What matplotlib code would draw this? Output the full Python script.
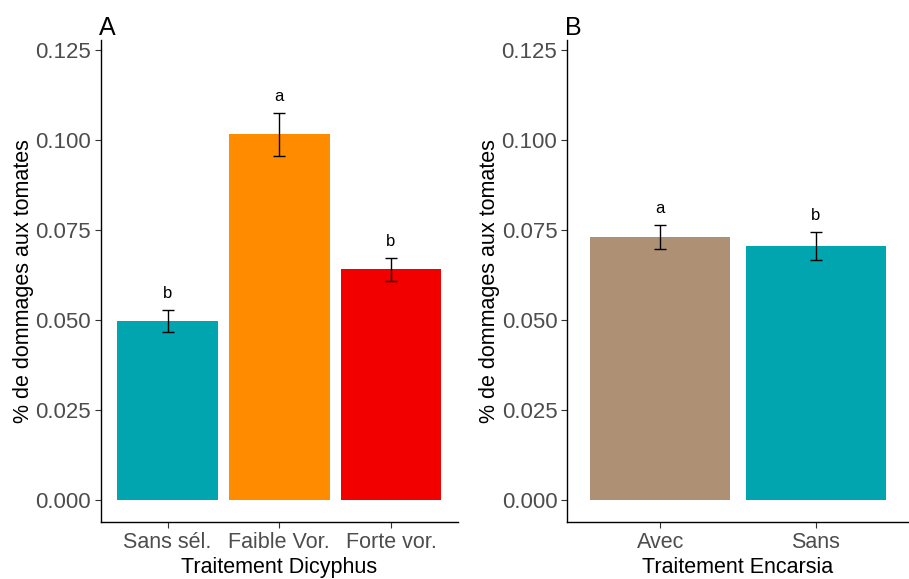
import matplotlib.pyplot as plt
import numpy as np

plt.rcParams.update({
    "font.family": ["Liberation Sans", "DejaVu Sans"],
    "axes.spines.top": False,
    "axes.spines.right": False,
})

# Panel A: Dicyphus treatments
dicy_labels = ["Sans sél.", "Faible Vor.", "Forte vor."]
dicy_mean = [0.0497, 0.1015, 0.0640]
dicy_se = [0.0030, 0.0059, 0.0031]
dicy_letters = ["b", "a", "b"]
dicy_colors = ["#00A5AF", "#FF8C00", "#F20000"]

# Panel B: Encarsia treatments
enc_labels = ["Avec", "Sans"]
enc_mean = [0.0730, 0.0705]
enc_se = [0.0033, 0.0039]
enc_letters = ["a", "b"]
enc_colors = ["#AE9174", "#00A5AF"]

yticks = [0.000, 0.025, 0.050, 0.075, 0.100, 0.125]

W, H = 909, 579
fig = plt.figure(figsize=(W / 100, H / 100), dpi=100)


def panel(rect, labels, means, ses, letters, colors, xlabel, tag):
    left, top, right, bottom = rect
    ax = fig.add_axes([left / W, 1 - bottom / H, (right - left) / W, (bottom - top) / H])
    x = np.arange(1, len(labels) + 1)
    ax.bar(x, means, width=0.9, color=colors)
    ax.errorbar(x, means, yerr=ses, fmt="none", ecolor="black", elinewidth=1,
                capsize=4.5, capthick=1)
    for xi, m, s, lab in zip(x, means, ses, letters):
        ax.text(xi, m + s + 0.0026, lab, ha="center", va="bottom", fontsize=12)
    ax.set_xlim(0.4, len(labels) + 0.6)
    ax.set_ylim(-0.0061, 0.1277)
    ax.set_yticks(yticks)
    ax.set_yticklabels([f"{v:.3f}" for v in yticks])
    ax.set_xticks(x)
    ax.set_xticklabels(labels)
    ax.tick_params(axis="both", labelsize=16, colors="#333333", labelcolor="#4D4D4D",
                   length=4, width=0.8, pad=3)
    ax.tick_params(axis="x", labelsize=15.5, pad=3.5)
    ax.set_ylabel("% de dommages aux tomates", fontsize=15.5, labelpad=1)
    ax.set_xlabel("Traitement " + xlabel, fontsize=15.5, labelpad=2.5)
    for sp in ("left", "bottom"):
        ax.spines[sp].set_linewidth(1.0)
    fig.text((left - 2) / W, 1 - 28 / H, tag, fontsize=18, ha="left", va="center")
    return ax


panel((100.5, 40, 458, 522), dicy_labels, dicy_mean, dicy_se, dicy_letters,
      dicy_colors, "Dicyphus", "A")
panel((567, 40, 909, 522), enc_labels, enc_mean, enc_se, enc_letters,
      enc_colors, "Encarsia", "B")

fig.savefig("out.png", dpi=100)
